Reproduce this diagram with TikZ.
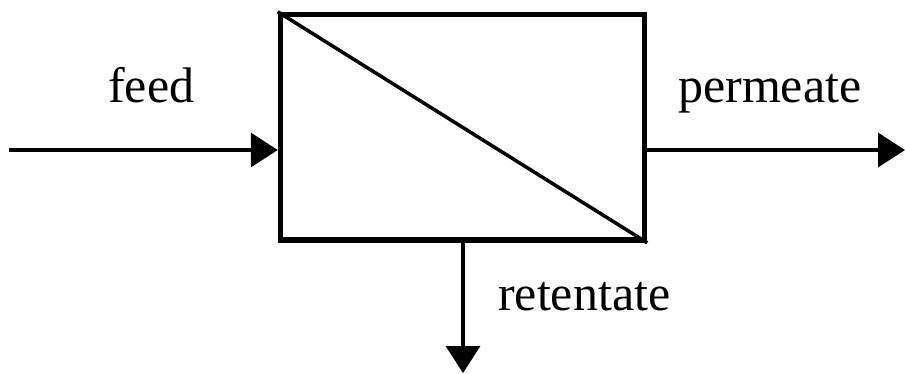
\documentclass[tikz,border=0pt]{standalone}
\usepackage{fontspec}
\setmainfont{Liberation Serif}
\usetikzlibrary{positioning, arrows.meta, calc}

\begin{document}
\begin{tikzpicture}[x=1pt, y=-1pt,
    flowline/.style={line width=3.5pt, -{Triangle[length=27pt, width=34pt]}},
    flowlabel/.style={font=\fontsize{50}{56}\selectfont, inner sep=0pt, anchor=base west}]
  \useasboundingbox (0,0) rectangle (905,373);
  % Membrane unit
  \node[draw, line width=5.5pt, minimum width=364pt, minimum height=225.5pt, inner sep=0pt]
    (membrane) at (462.5,127.25) {};
  \draw[line width=3.5pt] (membrane.north west) -- (membrane.south east);
  % Stream end points
  \coordinate (feedsrc) at (9,150);
  \coordinate (permout) at (905,150);
  \coordinate (retout) at (463,373);
  % Feed stream
  \draw[flowline] (feedsrc) -- (membrane.west |- feedsrc);
  \node[flowlabel] (feedlbl) at (108,102) {feed};
  % Permeate stream
  \draw[flowline] (membrane.east |- permout) -- (permout);
  \node[flowlabel] (permlbl) at (678,102) {permeate};
  % Retentate stream
  \draw[flowline] (membrane.south -| retout) -- (retout);
  \node[flowlabel] (retlbl) at (498,310) {retentate};
\end{tikzpicture}
\end{document}
